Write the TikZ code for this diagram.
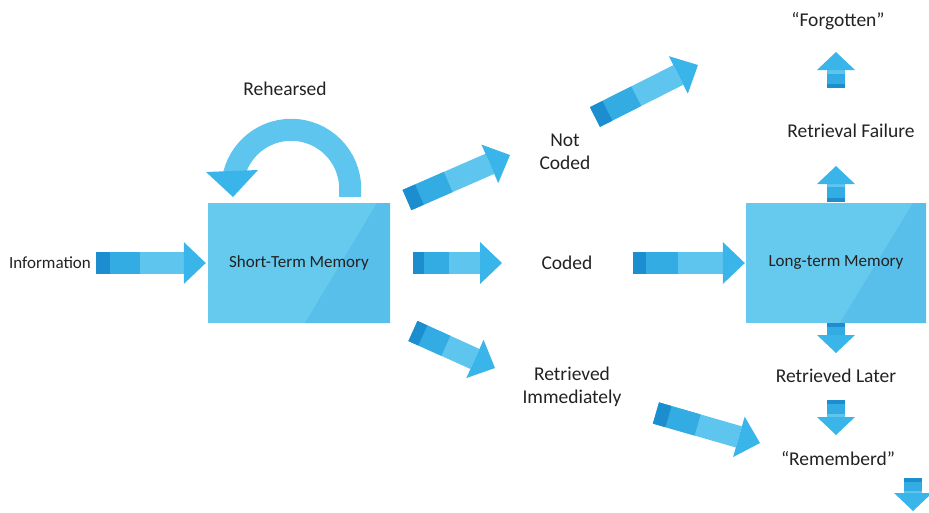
\documentclass[tikz,border=0pt]{standalone}
\usepackage{fontspec}
\setmainfont{Carlito}
\usetikzlibrary{arrows.meta,calc}

\definecolor{boxblue}{HTML}{66C9EE}
\definecolor{boxshade}{HTML}{57BFEA}
\definecolor{arrowlight}{HTML}{5EC6EE}
\definecolor{arrowmid}{HTML}{33ACE4}
\definecolor{arrowdark}{HTML}{1C8ECF}
\definecolor{arrowhead}{HTML}{3AB5E9}
\definecolor{txt}{HTML}{222222}

\tikzset{
  memorybox/.style={fill=boxblue, minimum width=182pt, minimum height=120pt, inner sep=0pt,
    font=\fontsize{17}{20}\selectfont, text=txt},
  smalltext/.style={font=\fontsize{17}{20}\selectfont, text=txt},
  bigtext/.style={font=\fontsize{19.5}{23.5}\selectfont, text=txt, align=center},
  barrow/.style={line width=22pt, -{Triangle[line width=0pt, width=42pt, length=22pt, color=arrowhead]}},
  sarrow/.style={line width=18pt, -{Triangle[line width=0pt, width=38pt, length=18pt, color=arrowhead]}},
  loopline/.style={arrowlight, line width=22pt},
}

% block arrow: light shaft, darker tail
\newcommand{\blockarrow}[3][barrow]{%
  \draw[#1, arrowlight] #2 -- #3;
  \draw[#1, arrowmid, -] #2 -- ($#2!0.4!#3$);
  \draw[#1, arrowdark, -] #2 -- ($#2!0.12!#3$);
}

\begin{document}
\begin{tikzpicture}[x=1pt, y=-1pt]
  \useasboundingbox (0,0) rectangle (929,512);

  \node[smalltext] (info) at (50,263) {Information};
  \node[memorybox, path picture={\fill[boxshade] ([xshift=-85pt]path picture bounding box.south east)
      -- ([xshift=-13pt]path picture bounding box.north east) -- (path picture bounding box.north east)
      -- (path picture bounding box.south east) -- cycle;}] (stm) at (299,263) {Short-Term Memory};
  \node[memorybox, minimum width=180pt, path picture={\fill[boxshade] ([xshift=-86pt]path picture bounding box.south east)
      -- ([xshift=-13pt]path picture bounding box.north east) -- (path picture bounding box.north east)
      -- (path picture bounding box.south east) -- cycle;}] (ltm) at (836,263) {Long-term Memory};
  \node[bigtext] (reh) at (285,89) {Rehearsed};
  \node[bigtext] (notcoded) at (565,152) {Not\\Coded};
  \node[bigtext] (coded) at (567,263) {Coded};
  \node[bigtext] (retimm) at (572,387) {Retrieved\\Immediately};
  \node[bigtext] (forgot) at (838,21) {“Forgotten”};
  \node[bigtext] (fail) at (851,131) {Retrieval Failure};
  \node[bigtext] (later) at (836,376) {Retrieved Later};
  \node[bigtext] (remem) at (838,459) {“Rememberd”};

  % arrow ends
  \coordinate (infoout) at ([xshift=2pt]info.east);
  \coordinate (stmin) at ([xshift=-2pt]stm.west);
  \coordinate (ncin) at (510,155);
  \coordinate (stmup) at (407,200);
  \coordinate (ncout) at (595,117);
  \coordinate (ncend) at (698,65);
  \coordinate (stmright) at ([xshift=23pt]stm.east);
  \coordinate (codedin) at (502,263);
  \coordinate (codedout) at (633,263);
  \coordinate (ltmin) at ([xshift=-1pt]ltm.west);
  \coordinate (stmdown) at (413,331);
  \coordinate (riin) at (495,368);
  \coordinate (riout) at (656,413);
  \coordinate (rememin) at (760,443);
  \coordinate (ltmup) at ([yshift=1pt]ltm.north);
  \coordinate (failin) at (836,166);
  \coordinate (failout) at (836,88);
  \coordinate (forgotin) at (836,52);
  \coordinate (ltmdown) at (ltm.south);
  \coordinate (laterin) at (836,353);
  \coordinate (laterout) at (836,400);
  \coordinate (rememout) at (836,435);
  \coordinate (endout) at (913,478);
  \coordinate (endin) at (913,511);
  \coordinate (loopstart) at ([xshift=-40pt, yshift=6pt]stm.north east);

  \blockarrow{(infoout)}{(stmin)}
  \blockarrow{(stmup)}{(ncin)}
  \blockarrow{(ncout)}{(ncend)}
  \blockarrow{(stmright)}{(codedin)}
  \blockarrow{(codedout)}{(ltmin)}
  \blockarrow{(stmdown)}{(riin)}
  \blockarrow{(riout)}{(rememin)}
  \blockarrow[sarrow]{(ltmup)}{(failin)}
  \blockarrow[sarrow]{(failout)}{(forgotin)}
  \blockarrow[sarrow]{(ltmdown)}{(laterin)}
  \blockarrow[sarrow]{(laterout)}{(rememout)}
  \blockarrow[sarrow]{(endout)}{(endin)}
  %
  \draw[loopline] (loopstart) -- ++(0,-8) arc[start angle=0, end angle=-170, radius=59];
  \fill[arrowhead] (206,172) -- (258,170) -- (233,197) -- cycle;
\end{tikzpicture}
\end{document}
